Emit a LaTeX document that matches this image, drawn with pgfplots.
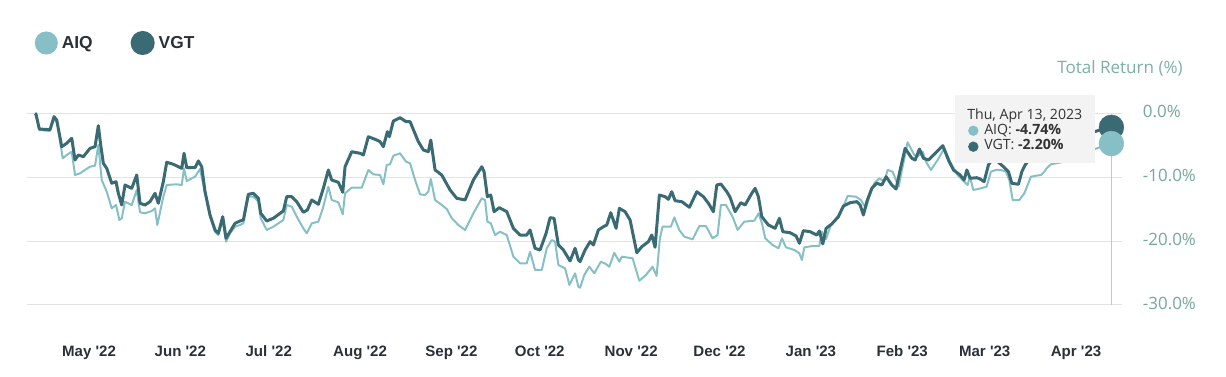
\documentclass[border=0pt]{standalone}
\usepackage{pgfplots}
\usepackage{pgfplotstable}
\pgfplotsset{compat=1.18}
\usepackage{fontspec}
\setmainfont{Liberation Sans}
\newfontfamily\opensans{Open Sans}
\definecolor{aiq}{HTML}{86C0C6}
\definecolor{vgt}{HTML}{3A6B74}
\definecolor{ylab}{HTML}{74A898}
\definecolor{tlab}{HTML}{7DB0A3}
\definecolor{xlab}{HTML}{2A3038}
\definecolor{gridc}{HTML}{E3E3E3}
\definecolor{tipbg}{HTML}{F3F3F3}

\pgfplotstableread{
d v
-18.33 0
-17.99 -0.16
-16.87 -2.46
-13.24 -2.57
-11.88 -0.53
-10.96 -1.05
-9.27 -5.23
-7.57 -4.69
-5.87 -3.91
-4.75 -7.31
-3.63 -6.53
-1.93 -6.79
0.34 -5.48
2.04 -5.23
3.16 -1.94
3.97 -4.96
4.85 -7.82
6.01 -8.61
7.71 -10.95
9.16 -10.70
9.95 -12.52
11.10 -14.35
12.22 -11.22
14.49 -11.74
16.19 -9.66
17.31 -14.08
19.01 -14.35
20.71 -13.83
22.40 -12.52
23.52 -14.08
25.22 -10.70
26.37 -7.67
28.62 -7.98
31.47 -8.61
32.25 -6.26
33.16 -8.51
35.98 -8.51
37.10 -7.46
38.25 -8.36
39.38 -12.27
41.07 -15.92
42.77 -18.26
43.89 -18.78
45.38 -16.18
46.50 -19.56
47.86 -18.53
49.56 -17.21
51.26 -16.85
52.38 -16.70
54.07 -12.68
55.77 -12.52
57.47 -13.30
58.28 -15.65
60.32 -16.85
62.56 -16.43
65.95 -15.29
67.11 -13.05
68.81 -13.05
70.50 -13.83
72.74 -15.49
74.10 -15.13
75.60 -13.57
77.84 -14.24
79.53 -11.74
81.23 -8.87
82.38 -10.44
84.62 -10.80
86.12 -12.36
86.90 -8.36
89.17 -6.01
91.99 -6.26
93.11 -6.53
94.81 -3.66
97.66 -4.18
98.78 -4.44
99.90 -5.23
101.26 -2.88
101.94 -3.66
103.29 -1.21
105.57 -0.69
107.60 -1.31
108.96 -1.31
111.78 -4.44
113.48 -5.74
115.17 -6.01
115.99 -4.18
117.45 -8.87
119.72 -9.66
122.54 -12.00
124.81 -13.30
127.63 -13.57
130.45 -10.44
133.30 -8.36
134.08 -9.14
135.20 -13.05
136.35 -12.79
137.47 -15.40
139.27 -14.77
141.78 -15.40
144.03 -18.00
146.30 -19.05
148.57 -19.05
149.69 -18.26
151.39 -21.13
153.09 -21.39
155.13 -18.78
156.48 -16.34
157.84 -16.43
159.30 -20.61
161.00 -21.39
163.27 -23.11
164.97 -21.13
166.09 -22.96
166.67 -23.22
168.36 -21.39
170.06 -20.09
171.18 -20.61
172.88 -18.26
174.58 -17.75
175.73 -17.48
177.09 -15.56
178.89 -18.00
180.01 -14.87
181.95 -15.40
183.64 -16.70
185.92 -21.82
187.61 -20.88
189.85 -20.09
191.01 -19.05
192.12 -20.97
193.58 -12.79
195.52 -13.05
196.64 -13.46
197.79 -12.27
198.91 -13.68
201.19 -13.83
203.77 -14.71
206.28 -12.27
208.52 -13.05
210.22 -14.08
211.91 -15.40
213.07 -11.22
214.43 -11.06
216.46 -12.27
217.58 -13.15
219.28 -15.40
221.22 -13.99
222.67 -14.35
224.95 -12.52
226.07 -11.74
227.19 -13.05
228.34 -16.18
230.58 -17.48
232.86 -18.00
234.32 -16.43
235.47 -18.53
237.95 -18.69
239.99 -19.20
241.11 -20.34
242.46 -18.37
244.74 -18.53
247.01 -19.05
247.90 -18.42
249.05 -20.45
250.17 -18.00
252.10 -17.32
254.34 -16.18
256.04 -14.51
258.32 -13.99
260.59 -13.83
261.71 -14.35
262.83 -15.92
263.98 -13.83
265.68 -11.74
267.38 -10.95
269.08 -11.22
270.54 -9.92
272.47 -11.22
273.93 -11.85
275.29 -8.87
276.99 -5.48
279.26 -7.04
280.38 -7.31
281.84 -5.59
283.20 -7.04
284.89 -7.31
287.17 -6.26
289.78 -5.07
291.68 -7.31
293.38 -8.87
295.65 -9.66
297.01 -10.44
297.93 -8.87
299.05 -10.17
301.32 -10.08
302.44 -10.28
303.80 -10.70
305.26 -8.09
306.86 -7.00
308.55 -7.62
310.35 -8.36
312.05 -9.14
313.20 -10.95
315.44 -11.11
316.60 -9.14
317.72 -8.09
320.09 -6.68
322.81 -5.74
325.53 -5.12
328.92 -4.80
332.32 -4.02
336.39 -3.55
339.78 -3.08
343.18 -2.61
347 -2.20
}\vgtdata

\pgfplotstableread{
d v
-18.33 0
-17.99 -0.11
-16.87 -2.61
-13.24 -2.77
-11.88 -0.78
-10.76 -1.56
-8.93 -7.04
-7.57 -6.53
-5.87 -6.01
-4.75 -9.66
-3.05 -9.39
-1.36 -8.87
0.34 -8.36
2.04 -8.20
3.16 -4.96
4.31 -10.44
6.01 -12.27
7.71 -14.87
9.16 -14.35
10.29 -16.70
11.10 -16.43
12.22 -13.83
14.49 -14.35
16.19 -12.00
17.31 -15.49
19.01 -15.65
21.28 -15.29
22.40 -14.87
23.18 -17.48
25.22 -13.05
26.37 -11.22
29.77 -11.11
31.47 -11.22
32.25 -8.61
33.16 -10.59
35.98 -9.92
37.68 -8.72
39.38 -12.52
41.07 -16.18
42.77 -18.53
43.89 -19.05
45.38 -16.70
46.50 -20.09
47.86 -18.78
49.56 -17.75
51.26 -17.48
52.38 -17.21
54.07 -13.05
55.77 -13.05
57.47 -13.83
58.28 -16.43
60.32 -18.26
62.56 -17.75
65.95 -16.70
67.11 -14.35
68.81 -14.62
70.50 -16.18
72.74 -18.00
73.90 -18.78
75.60 -17.21
77.84 -16.96
79.53 -14.62
81.23 -11.49
82.38 -13.57
84.62 -13.93
86.12 -15.81
86.90 -12.52
89.17 -11.64
92.57 -11.64
94.81 -8.87
96.50 -9.55
98.78 -9.66
99.90 -11.11
101.05 -8.09
102.17 -7.98
103.29 -6.64
105.57 -6.26
107.60 -7.57
108.96 -7.82
110.66 -10.44
112.36 -12.68
114.05 -12.79
115.17 -12.27
115.99 -10.28
117.45 -13.57
119.72 -14.35
121.42 -14.98
123.12 -16.43
125.36 -17.48
127.63 -18.26
130.45 -15.65
133.30 -13.30
134.42 -13.57
135.20 -16.96
136.35 -17.21
137.81 -19.05
139.51 -18.53
141.78 -19.05
144.03 -22.44
146.30 -23.47
148.57 -23.47
149.69 -21.66
151.39 -24.52
153.67 -24.52
155.36 -21.13
157.06 -19.83
158.18 -20.09
159.30 -23.74
161.58 -24.26
163.04 -26.87
164.97 -25.04
166.09 -27.14
166.67 -27.29
168.09 -25.31
169.79 -24.01
171.49 -25.04
173.73 -23.22
175.43 -23.58
176.58 -24.01
178.28 -21.82
179.97 -23.22
180.86 -22.44
184.49 -22.69
186.76 -26.20
189.00 -25.31
191.28 -24.01
192.63 -25.46
193.75 -19.56
194.67 -17.75
197.49 -17.75
198.64 -16.28
200.34 -18.26
202.04 -19.31
204.85 -19.72
207.13 -17.64
209.37 -17.64
211.64 -19.56
213.34 -19.05
214.46 -14.35
216.16 -14.35
218.43 -16.18
220.13 -18.26
222.40 -16.96
225.80 -16.81
227.26 -15.65
228.38 -17.21
229.53 -19.56
232.01 -20.61
234.05 -21.13
235.17 -19.56
236.52 -20.97
239.38 -21.39
241.07 -21.91
241.96 -22.96
242.77 -20.97
245.59 -20.77
247.86 -20.77
248.75 -18.53
250.10 -19.72
251.80 -17.48
254.07 -16.18
256.01 -14.62
257.47 -12.94
260.29 -13.05
261.98 -13.57
263.68 -14.87
264.84 -13.05
266.53 -10.95
268.23 -10.17
269.93 -10.70
271.05 -8.87
272.74 -9.14
274.78 -11.49
276.14 -8.36
277.83 -4.54
280.11 -6.53
281.23 -6.79
282.93 -6.01
284.05 -7.57
285.75 -8.87
288.02 -7.31
290.29 -5.48
292.53 -7.82
294.81 -9.66
297.08 -10.70
298.20 -11.22
298.98 -9.92
300.14 -12.00
302.72 -11.74
304.65 -11.49
306.11 -9.14
307.81 -8.87
309.50 -8.87
311.20 -9.14
312.36 -10.44
313.48 -13.57
315.75 -13.57
317.45 -12.52
318.57 -11.22
319.69 -9.92
321.39 -9.77
323.09 -9.66
324.24 -9.14
325.02 -8.61
326.48 -7.98
328.75 -7.78
332.15 -7.46
335.54 -6.68
338.94 -6.06
342.33 -5.43
347 -4.74
}\aiqdata

\begin{document}
\begin{tikzpicture}
\useasboundingbox (0,0) rectangle (919.5pt,282.75pt);
\begin{axis}[
  at={(20.25pt,54pt)}, anchor=south west,
  scale only axis, width=821.25pt, height=143.775pt,
  xmin=-21.05, xmax=350.6, ymin=-30, ymax=0,
  clip=false,
  axis line style={draw=none},
  major tick length=0pt,
  ymajorgrids, grid style={color=gridc, line width=0.75pt},
  xtick={0,31,61,92,123,153,184,214,245,276,304,335},
  xticklabels={May \textquotesingle22, Jun \textquotesingle22, Jul \textquotesingle22, Aug \textquotesingle22, Sep \textquotesingle22, Oct \textquotesingle22, Nov \textquotesingle22, Dec \textquotesingle22, Jan \textquotesingle23, Feb \textquotesingle23, Mar \textquotesingle23, Apr \textquotesingle23},
  xticklabel style={anchor=base, yshift=-39pt, font=\bfseries\fontsize{11.3}{13}\selectfont, text=xlab},
  ytick={-30,-20,-10,0},
  yticklabels={-30.0\%,-20.0\%,-10.0\%,0.0\%},
  yticklabel pos=right,
  yticklabel style={anchor=west, inner sep=0pt, xshift=15.5pt, yshift=1.2pt, font=\opensans\fontsize{12.7}{15}\selectfont, text=ylab},
  legend columns=-1,
  legend style={at={(0.00685,1.3667)}, anchor=west, draw=none, fill=none, inner sep=0pt,
    font=\bfseries\fontsize{13}{15}\selectfont, text=xlab,
    /tikz/every odd column/.append style={column sep=1pt},
    /tikz/every even column/.append style={column sep=26.5pt}},
  legend image code/.code={\fill[#1] (7.9pt,0pt) circle (7.9pt);},
]
\addplot[color=aiq, line width=1.5pt, line join=round] table[x=d,y=v] {\aiqdata};
\addlegendentry{AIQ}
\addplot[color=vgt, line width=2.25pt, line join=round] table[x=d,y=v] {\vgtdata};
\addlegendentry{VGT}
\draw[color=black!22, line width=0.75pt] (axis cs:347,-2.2) -- (axis cs:347,-30);
\addplot[forget plot, only marks, mark=*, mark size=9.3pt, color=vgt] coordinates {(347,-2.20)};
\addplot[forget plot, only marks, mark=*, mark size=9.3pt, color=aiq] coordinates {(347,-4.74)};
\end{axis}
\begin{scope}[x=0.75pt,y=0.75pt]
  \node[anchor=base, text=tlab, font=\opensans\fontsize{12.8}{15}\selectfont] at (1120,303) {Total Return (\%)};
  \fill[tipbg] (955,214) rectangle (1095,282);
  \node[anchor=base west, inner sep=0pt, text=black!80, font=\opensans\fontsize{10.6}{12}\selectfont] at (967,257) {Thu, Apr 13, 2023};
  \fill[aiq] (973.3,246.3) circle (5.2);
  \fill[vgt] (973.3,230.3) circle (5.2);
  \node[anchor=base west, inner sep=0pt, text=black!80, font=\opensans\fontsize{10.6}{12}\selectfont] at (984,242) {AIQ: \textbf{-4.74\%}};
  \node[anchor=base west, inner sep=0pt, text=black!80, font=\opensans\fontsize{10.6}{12}\selectfont] at (984,227) {VGT: \textbf{-2.20\%}};
\end{scope}
\end{tikzpicture}
\end{document}
